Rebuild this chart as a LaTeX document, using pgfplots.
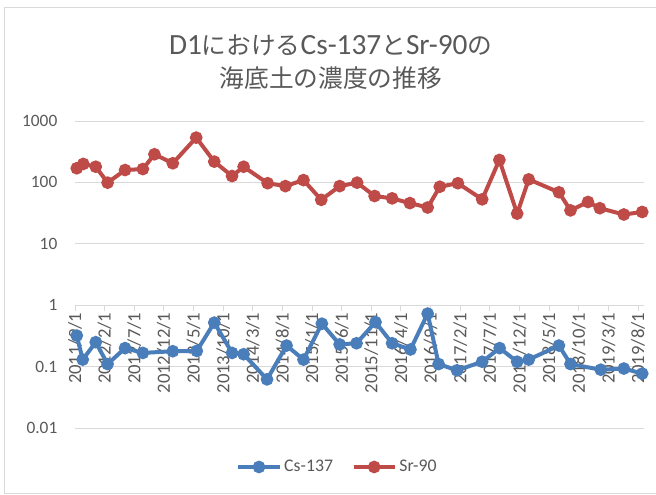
\documentclass[border=0pt]{standalone}
\usepackage{fontspec}
\setmainfont{Carlito}
\newfontfamily\jp{Noto Sans CJK JP}
\usepackage{pgfplots}
\pgfplotsset{compat=1.18}
\definecolor{txt}{HTML}{595959}
\definecolor{gridc}{HTML}{D9D9D9}
\definecolor{csblue}{HTML}{4A7EBB}
\definecolor{srred}{HTML}{BE4B48}
\begin{document}
\begin{tikzpicture}
\path[use as bounding box] (0,0) rectangle (492pt,-371.25pt);
\draw[gridc, line width=0.75pt] (3pt,-369.75pt) -- (3pt,-6pt) -- (492pt,-6pt);
\draw[gridc, line width=0.75pt] (3pt,-369.75pt) -- (492pt,-369.75pt);
\node[txt, anchor=center] at (248pt,-33.75pt) {\fontsize{22}{26}\selectfont D1{\jp\fontsize{18.5}{26}\selectfont における}Cs-137{\jp\fontsize{18.5}{26}\selectfont と}Sr-90{\jp\fontsize{18.5}{26}\selectfont の}};
\node[txt, anchor=center] at (248pt,-58.5pt) {\jp\fontsize{18.5}{26}\selectfont 海底土の濃度の推移};
\begin{axis}[
  at={(56.25pt,-321pt)}, anchor=south west,
  scale only axis, width=426.75pt, height=230.25pt,
  ymode=log, ymin=0.01, ymax=1000,
  xmin=0, xmax=96,
  axis x line=middle, axis y line=left,
  hide obscured x ticks=false,
  x axis line style={-, draw=gridc, line width=0.75pt},
  y axis line style={draw=none},
  ytick={0.01,0.1,1,10,100,1000},
  yticklabels={0.01,0.1,1,10,100,1000},
  yminorticks=false,
  ymajorgrids, major grid style={gridc, line width=0.75pt},
  ytick style={draw=none},
  xtick={0,5,...,95},
  xticklabels={2011/9/1,2012/2/1,2012/7/1,2012/12/1,2013/5/1,2013/10/1,2014/3/1,2014/8/1,2015/1/1,2015/6/1,2015/11/1,2016/4/1,2016/9/1,2017/2/1,2017/7/1,2017/12/1,2018/5/1,2018/10/1,2019/3/1,2019/8/1},
  xtick style={draw=gridc, line width=0.75pt},
  xtick align=outside, major tick length=4.5pt,
  xticklabel style={rotate=90, anchor=east, font=\fontsize{14}{14}\selectfont, text=txt, inner sep=1pt},
  yticklabel style={font=\fontsize{13}{13}\selectfont, text=txt, xshift=-7.5pt},
  clip=false,
  legend columns=2,
  legend style={at={(0.462,-0.127)}, anchor=center, draw=none, fill=none, font=\fontsize{13.3}{14}\selectfont, text=txt,
    /tikz/every even column/.append style={column sep=12pt}},
  legend image code/.code={\draw[mark repeat=2,mark phase=2,#1] plot coordinates {(0pt,0pt) (15.4pt,0pt) (30.8pt,0pt)};},
]
\addplot[csblue, line width=3pt, mark=*, mark size=3.2pt, mark options={solid}] coordinates {
(0.3,0.32) (1.3,0.13) (3.5,0.25) (5.5,0.11) (8.45,0.20) (11.45,0.167) (16.5,0.178) (20.55,0.18)
(23.5,0.52) (26.5,0.167) (28.45,0.159) (32.4,0.062) (35.7,0.22) (38.55,0.13) (41.65,0.50) (44.65,0.23)
(47.5,0.24) (50.7,0.53) (53.5,0.24) (56.6,0.19) (59.5,0.73) (61.35,0.11) (64.45,0.087) (68.7,0.12)
(71.65,0.20) (74.6,0.12) (76.55,0.13) (81.65,0.22) (83.6,0.11) (88.7,0.089) (92.6,0.093) (95.7,0.077)
};
\addlegendentry{Cs-137}
\addplot[srred, line width=3pt, mark=*, mark size=3.2pt, mark options={solid}] coordinates {
(0.3,170) (1.4,200) (3.5,180) (5.5,99) (8.45,159) (11.45,165) (13.4,287) (16.5,205)
(20.45,536) (23.5,218) (26.5,127) (28.45,180) (32.5,97) (35.5,87) (38.55,109) (41.55,52)
(44.65,87) (47.6,99) (50.55,60) (53.5,55) (56.5,46) (59.5,39) (61.55,85) (64.6,97)
(68.7,53) (71.6,232) (74.6,31) (76.55,112) (81.65,69) (83.6,35) (86.55,48) (88.55,38)
(92.6,30) (95.7,33)
};
\addlegendentry{Sr-90}
\end{axis}
\end{tikzpicture}
\end{document}
